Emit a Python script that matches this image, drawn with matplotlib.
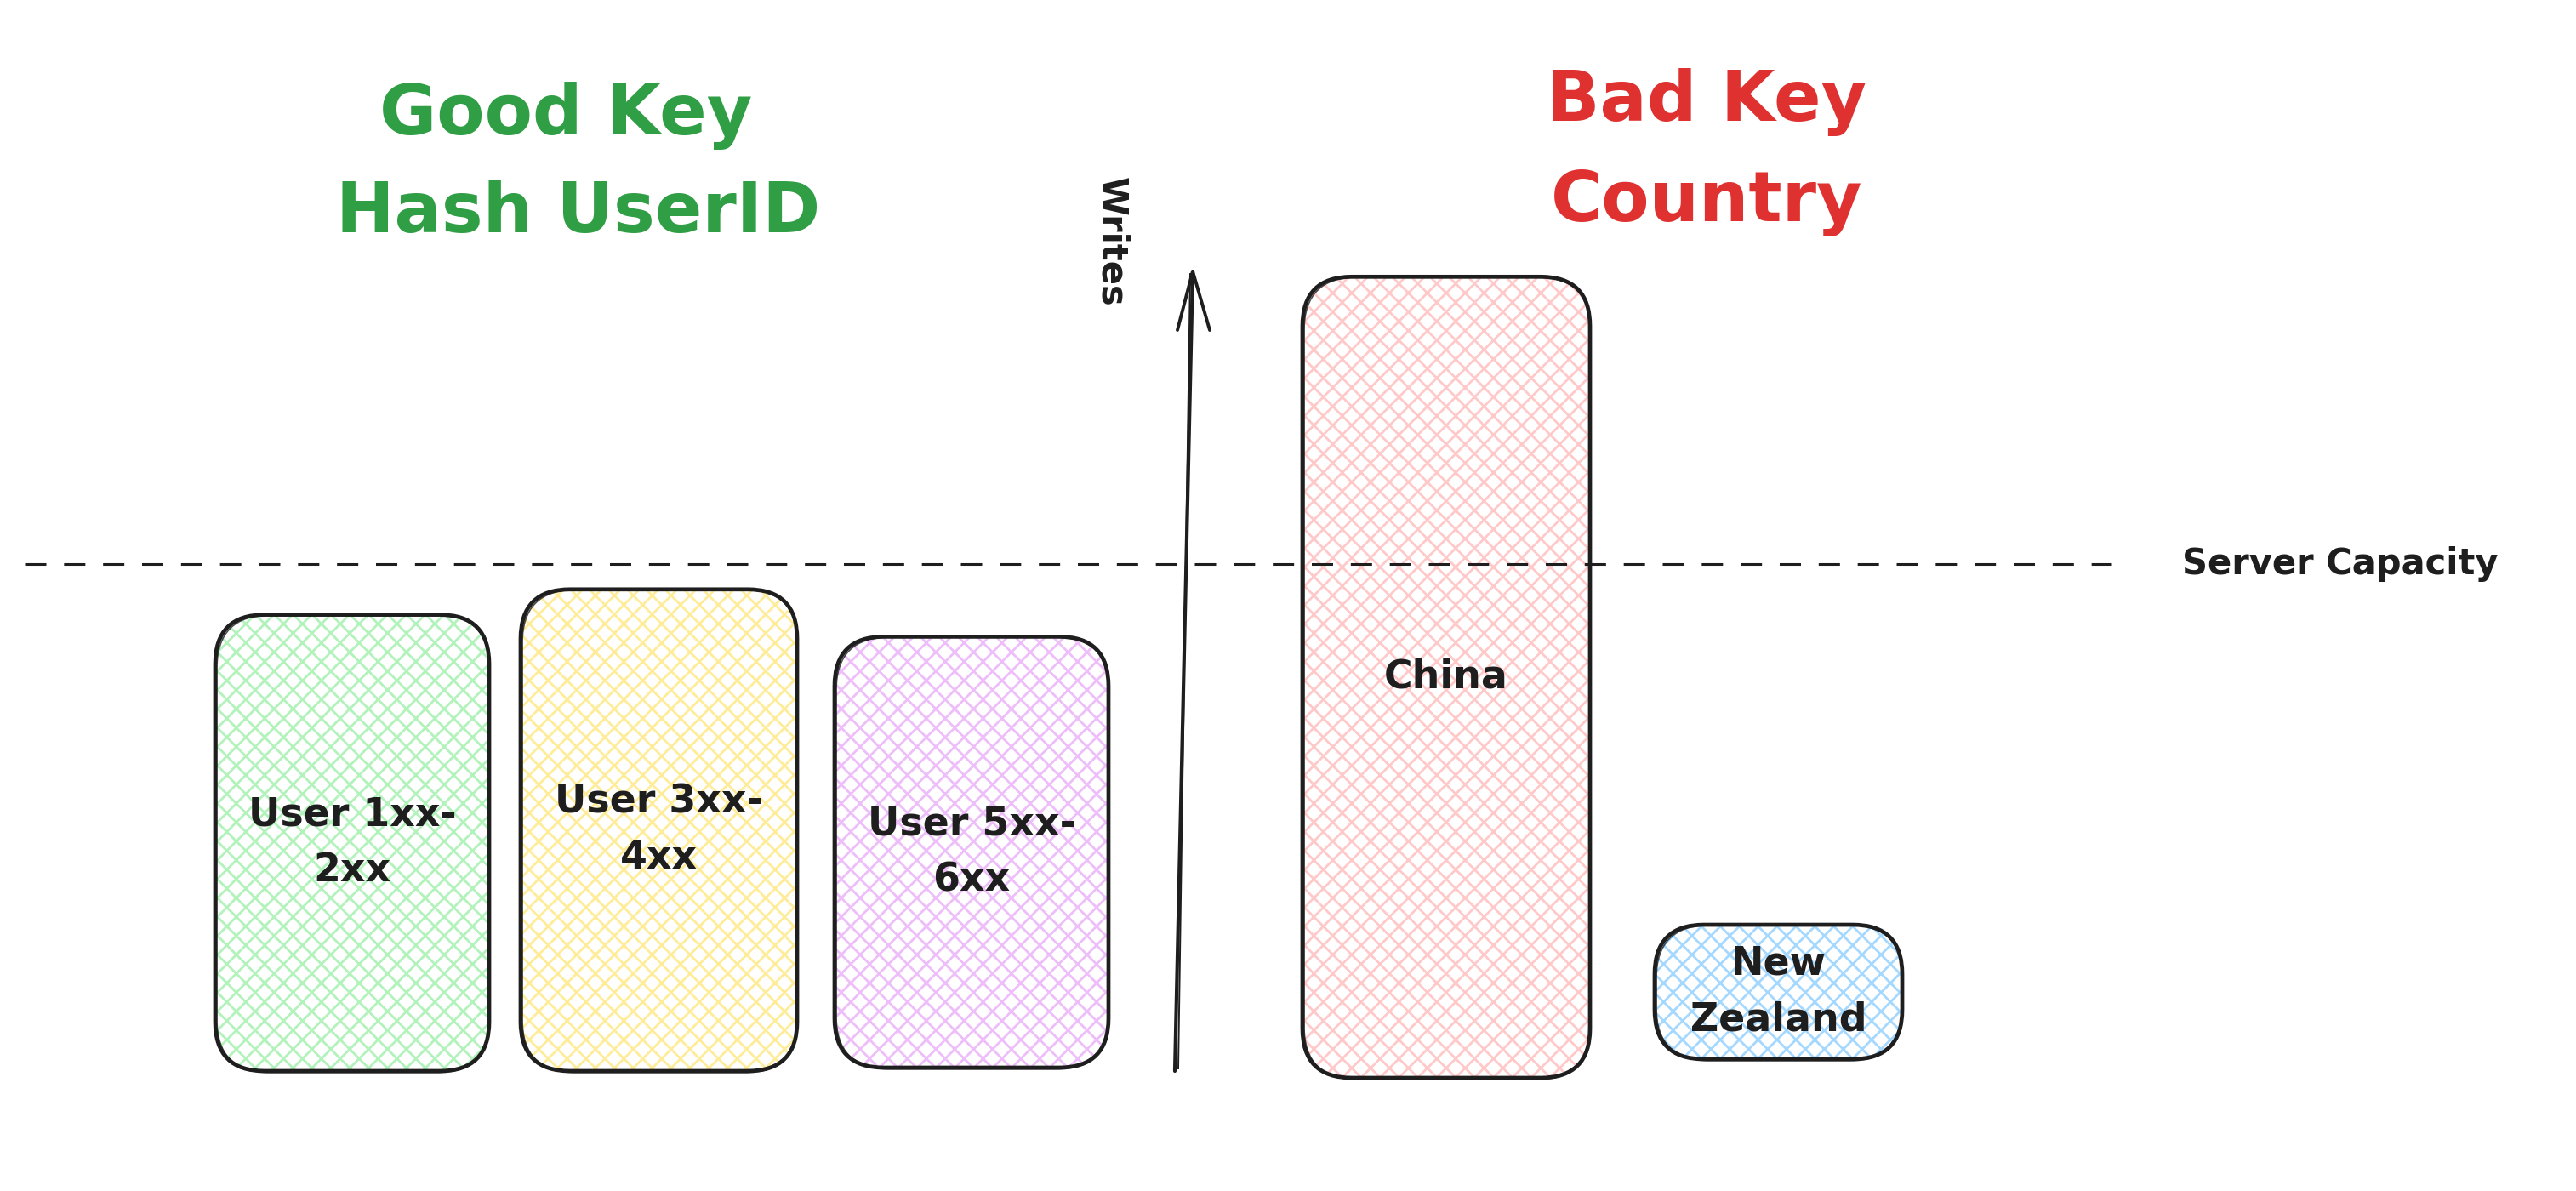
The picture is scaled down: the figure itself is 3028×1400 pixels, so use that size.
import matplotlib
matplotlib.use("Agg")
import matplotlib.pyplot as plt
from matplotlib.patches import FancyBboxPatch

# ---------------- data ----------------
categories = ["User 1xx-\n2xx", "User 3xx-\n4xx", "User 5xx-\n6xx", "China", "New\nZealand"]
writes = [90, 95, 85, 158, 26.5]
capacity = 100
capacity_label = "Server Capacity"
axis_label = "Writes"
good_title = ["Good Key", "Hash UserID"]
bad_title = ["Bad Key", "Country"]
hatch_colors = ["#b2f2bb", "#ffec99", "#eebefa", "#ffc9c9", "#a5d8ff"]

# ---------------- layout (pixels) ----------------
W, H = 3028, 1400
DPI = 200
BASE_PX = 1259
PX_PER_UNIT = 5.96
bar_left = [253, 612, 981, 1531, 1945]
bar_width = [322, 325, 322, 338, 291]
bar_base_shift = [0, 0, -4, 8, -14]
RADIUS = 58
INK = "#1e1e1e"
FONT = ["DejaVu Sans"]

plt.rcParams["hatch.linewidth"] = 1.0
plt.rcParams["font.family"] = FONT

fig = plt.figure(figsize=(W / DPI, H / DPI), dpi=DPI)
ax = fig.add_axes([0, 0, 1, 1])
ax.set_xlim(0, W)
ax.set_ylim(-(H - BASE_PX) / PX_PER_UNIT, BASE_PX / PX_PER_UNIT)
ax.axis("off")


def yu(px):
    return (BASE_PX - px) / PX_PER_UNIT


aspect = 1 / PX_PER_UNIT
for i, cat in enumerate(categories):
    x0 = bar_left[i]
    w = bar_width[i]
    b = -bar_base_shift[i] / PX_PER_UNIT
    h = writes[i]
    fill = FancyBboxPatch((x0, b), w, h,
                          boxstyle=f"round,pad=0,rounding_size={RADIUS}",
                          mutation_aspect=aspect, facecolor="white",
                          edgecolor=hatch_colors[i], linewidth=0, hatch="xxx",
                          zorder=1)
    ax.add_patch(fill)
    outline = FancyBboxPatch((x0, b), w, h,
                             boxstyle=f"round,pad=0,rounding_size={RADIUS}",
                             mutation_aspect=aspect, facecolor="none",
                             edgecolor=INK, linewidth=1.7, zorder=2)
    ax.add_patch(outline)
    outline2 = FancyBboxPatch((x0 + 2, b - 0.3), w - 1, h + 0.2,
                              boxstyle=f"round,pad=0,rounding_size={RADIUS + 4}",
                              mutation_aspect=aspect, facecolor="none",
                              edgecolor=INK, linewidth=0.6, alpha=0.8, zorder=2)
    ax.add_patch(outline2)
    ax.text(x0 + w / 2, b + h / 2, cat, ha="center", va="center",
            fontsize=16.5, color=INK, linespacing=1.6, zorder=4,
            fontweight="bold")

# capacity line
lw = 1.1
ax.plot([29, 2481], [capacity, capacity], color=INK, lw=lw,
        dashes=(9 / lw, 7.5 / lw), zorder=3)
ax.text(2565, capacity, capacity_label, ha="left", va="center",
        fontsize=15, color=INK, fontweight="bold")

# Writes axis arrow
ax.plot([1381, 1402], [yu(1259), yu(319)], color=INK, lw=1.5, zorder=3,
        solid_capstyle="round")
ax.plot([1385, 1399], [yu(1256), yu(322)], color=INK, lw=0.7, zorder=3)
ax.plot([1384, 1402, 1422], [yu(388), yu(319), yu(388)], color=INK, lw=1.4,
        zorder=3, solid_capstyle="round", solid_joinstyle="round")
ax.text(1306, yu(284), axis_label, rotation=-90, ha="center", va="center",
        fontsize=15, color=INK, fontweight="bold")

# titles
green = "#2f9e44"
red = "#e03131"
tkw = dict(ha="center", va="center", fontsize=29.5, fontweight="bold")
ax.text(665, yu(136), good_title[0], color=green, **tkw)
ax.text(680, yu(250), good_title[1], color=green, **tkw)
ax.text(2006, yu(120), bad_title[0], color=red, **tkw)
ax.text(2006, yu(238), bad_title[1], color=red, **tkw)

fig.savefig("out.png", dpi=DPI, facecolor="white")
